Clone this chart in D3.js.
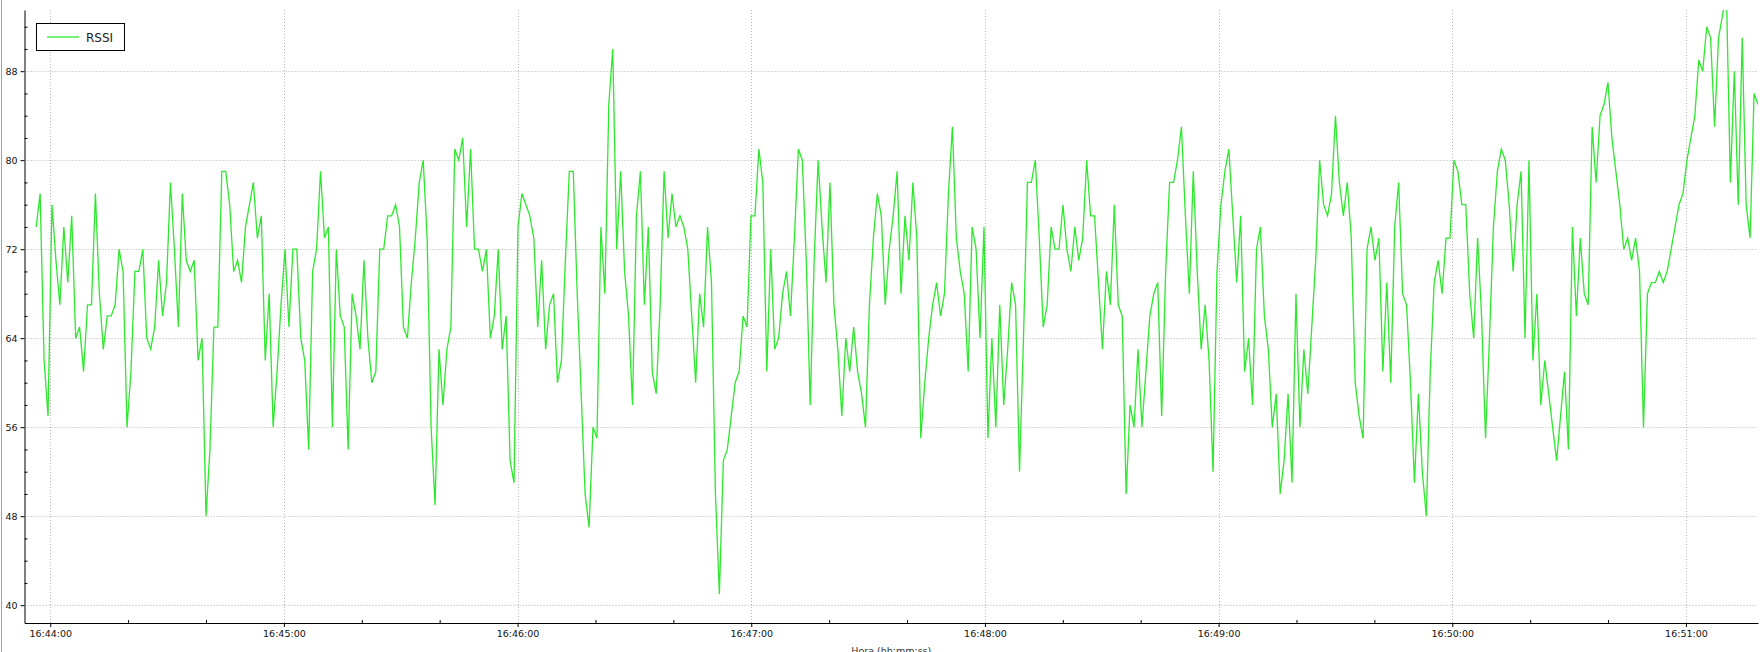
<!DOCTYPE html>
<html>
<head>
<meta charset="utf-8">
<script src="https://cdn.jsdelivr.net/npm/d3@7"></script>
<style>
  body { margin: 0; background: #fff; }
  svg { display: block; }
</style>
</head>
<body>
<script>
var w = 1762;
var h = 652;

/*
    RSSI readings, one per sample.
*/
var rssi = [
    74,77,62,57,76,71,67,74,69,75,64,65,61,67,67,77,68,63,66,66,67,72,70,56,61,70,70,72,64,63,
    65,71,66,69,78,72,65,77,71,70,71,62,64,48,54,65,65,79,79,76,70,71,69,74,76,78,73,75,62,68,
    56,61,67,72,65,72,72,64,62,54,70,72,79,73,74,56,72,66,65,54,68,66,63,71,64,60,61,72,72,75,
    75,76,74,65,64,69,73,78,80,73,56,49,63,58,63,65,81,80,82,74,81,72,72,70,72,64,66,72,63,66,
    53,51,74,
    77,76,75,73,65,71,63,67,68,60,62,71,79,79,68,59,50,47,56,55,74,68,85,90,72,79,70,66,58,75,
    79,67,74,61,59,67,79,73,77,74,75,74,72,66,60,68,65,74,69,50,41,53,54,57,60,61,66,65,75,75,
    81,78,61,
    72,63,64,68,70,66,73,81,80,71,58,71,80,74,69,78,67,63,57,64,61,65,61,59,56,67,73,77,75,67,
    72,75,79,68,75,71,78,73,55,60,64,67,69,66,68,77,83,73,70,68,61,74,72,64,74,55,64,56,67,58,
    63,69,67,52,
    64,78,78,80,73,65,67,74,72,72,76,72,70,74,71,73,80,75,75,69,63,70,67,76,67,66,50,58,56,63,
    56,61,66,68,69,57,70,78,78,80,83,75,68,79,70,63,67,62,52,70,76,79,81,75,69,75,61,64,58,72,
    74,66,63,
    56,59,50,53,59,51,68,56,63,59,65,71,80,76,75,77,84,78,75,78,73,60,57,55,72,74,71,73,61,69,
    60,74,78,68,67,60,51,59,52,48,61,69,71,68,73,73,80,79,76,76,68,64,73,66,55,64,74,79,81,80,
    76,70,76,
    79,64,80,62,68,58,62,59,56,53,57,61,54,74,66,73,68,67,83,78,84,85,87,82,79,76,72,73,71,73,
    70,56,68,69,69,70,69,70,72,74,76,77,80,82,84,89,88,92,91,83,91,93,95,78,88,76,91,76,73,86,
    85
];

// sampling clock of the logger
var sampleStart = "16:43:56.4";
var sampleStepMs = 1014;

// axis extents and tick labels
var timeFrom = "16:43:53.4";
var timeTo = "16:51:18.5";
var xTickLabels = ["16:44:00", "16:45:00", "16:46:00", "16:47:00", "16:48:00", "16:49:00", "16:50:00", "16:51:00"];
var xMinorStepSec = 20;
var yDomain = [38.4, 93.5];
var yTickValues = [40, 48, 56, 64, 72, 80, 88];
var yMinorStep = 2;

var seriesName = "RSSI";
var xTitle = "Hora (hh:mm:ss)";

/*
    Turn the clock strings into dates on one arbitrary day.
*/
function clock(s) {
    var p = s.split(":");
    var sec = parseFloat(p[2]);
    var d = new Date(2020, 0, 1, +p[0], +p[1], 0, 0);
    return new Date(d.getTime() + sec * 1000);
}

var t0 = clock(sampleStart);
var samples = rssi.map(function(v, i) {
    return { t: new Date(t0.getTime() + i * sampleStepMs), v: v };
});

var plotLeft = 24.5, plotRight = 1758, plotTop = 10, plotBottom = 623;

var xScale = d3.scaleTime()
    .domain([clock(timeFrom), clock(timeTo)])
    .range([plotLeft, plotRight]);

var yScale = d3.scaleLinear()
    .domain(yDomain)
    .range([plotBottom, plotTop]);

var xMajor = xTickLabels.map(clock);
var xMinor = [];
var stepMs = xMinorStepSec * 1000;
for (var s = Math.ceil(+clock(timeFrom) / stepMs) * stepMs; s <= +clock(timeTo); s += stepMs) {
    var d = new Date(s);
    if (d.getSeconds() !== 0) xMinor.push(d);
}
var yMinor = d3.range(Math.ceil(yDomain[0] / yMinorStep) * yMinorStep, yDomain[1], yMinorStep)
    .filter(function(v) { return yTickValues.indexOf(v) < 0; });

var svg = d3.select("body")
    .append("svg")
    .attr("width", w)
    .attr("height", h);

// window frame edge on the left
svg.append("line")
    .attr("x1", 1.5).attr("x2", 1.5)
    .attr("y1", 0).attr("y2", h)
    .attr("stroke", "#a0a0a0");

/*
    Dotted grid at the major ticks.
*/
svg.append("g")
    .selectAll("line")
    .data(yTickValues)
    .enter()
    .append("line")
    .attr("x1", plotLeft).attr("x2", plotRight)
    .attr("y1", function(d) { return Math.round(yScale(d)) + 0.5; })
    .attr("y2", function(d) { return Math.round(yScale(d)) + 0.5; })
    .attr("stroke", "#b4b4b4")
    .attr("stroke-dasharray", "1,2");

svg.append("g")
    .selectAll("line")
    .data(xMajor)
    .enter()
    .append("line")
    .attr("x1", function(d) { return Math.round(xScale(d)) + 0.5; })
    .attr("x2", function(d) { return Math.round(xScale(d)) + 0.5; })
    .attr("y1", plotTop).attr("y2", plotBottom)
    .attr("stroke", "#b4b4b4")
    .attr("stroke-dasharray", "1,2");

/*
    The RSSI trace, clipped to the plot area.
*/
svg.append("clipPath")
    .attr("id", "plot")
    .append("rect")
    .attr("x", plotLeft).attr("y", plotTop)
    .attr("width", plotRight - plotLeft).attr("height", plotBottom - plotTop);

var line = d3.line()
    .x(function(d) { return xScale(d.t); })
    .y(function(d) { return yScale(d.v); });

svg.append("path")
    .datum(samples)
    .attr("clip-path", "url(#plot)")
    .attr("fill", "none")
    .attr("stroke", "#2de82d")
    .attr("stroke-width", 1.3)
    .attr("d", line);

/*
    Axes: labelled major ticks point outwards, minor ticks point inwards.
*/
var xAxis = d3.axisBottom(xScale)
    .tickValues(xMajor)
    .tickFormat(d3.timeFormat("%H:%M:%S"))
    .tickSize(4)
    .tickSizeOuter(0)
    .tickPadding(3);

var xAxisMinor = d3.axisBottom(xScale)
    .tickValues(xMinor)
    .tickFormat("")
    .tickSize(-3)
    .tickSizeOuter(0);

var yAxis = d3.axisLeft(yScale)
    .tickValues(yTickValues)
    .tickSize(4)
    .tickSizeOuter(0)
    .tickPadding(3);

var yAxisMinor = d3.axisLeft(yScale)
    .tickValues(yMinor)
    .tickFormat("")
    .tickSize(-3)
    .tickSizeOuter(0);

function styleAxis(g) {
    g.attr("font-family", "DejaVu Sans")
        .attr("font-size", 9.5);
    g.selectAll("text").attr("fill", "#111");
    g.selectAll("line, path").attr("stroke", "#000");
}

svg.append("g")
    .attr("transform", "translate(0," + plotBottom + ")")
    .call(xAxisMinor)
    .call(styleAxis)
    .select(".domain").remove();

svg.append("g")
    .attr("transform", "translate(" + plotLeft + ",0)")
    .call(yAxisMinor)
    .call(styleAxis)
    .select(".domain").remove();

svg.append("g")
    .attr("transform", "translate(0," + plotBottom + ")")
    .call(xAxis)
    .call(styleAxis);

svg.append("g")
    .attr("transform", "translate(" + plotLeft + ",0)")
    .call(yAxis)
    .call(styleAxis);

svg.append("text")
    .attr("x", (plotLeft + plotRight) / 2)
    .attr("y", 654)
    .attr("text-anchor", "middle")
    .attr("font-family", "DejaVu Sans")
    .attr("font-size", 9.5)
    .attr("fill", "#333")
    .text(xTitle);

/*
    Legend box.
*/
var legend = svg.append("g");
legend.append("rect")
    .attr("x", 36.5).attr("y", 23.5)
    .attr("width", 88).attr("height", 27)
    .attr("fill", "#fff")
    .attr("stroke", "#000");
legend.append("line")
    .attr("x1", 47).attr("x2", 79)
    .attr("y1", 37).attr("y2", 37)
    .attr("stroke", "#2de82d")
    .attr("stroke-width", 1.3);
legend.append("text")
    .attr("x", 86).attr("y", 42)
    .attr("font-family", "DejaVu Sans")
    .attr("font-size", 12)
    .attr("fill", "#222")
    .text(seriesName);
</script>
</body>
</html>
